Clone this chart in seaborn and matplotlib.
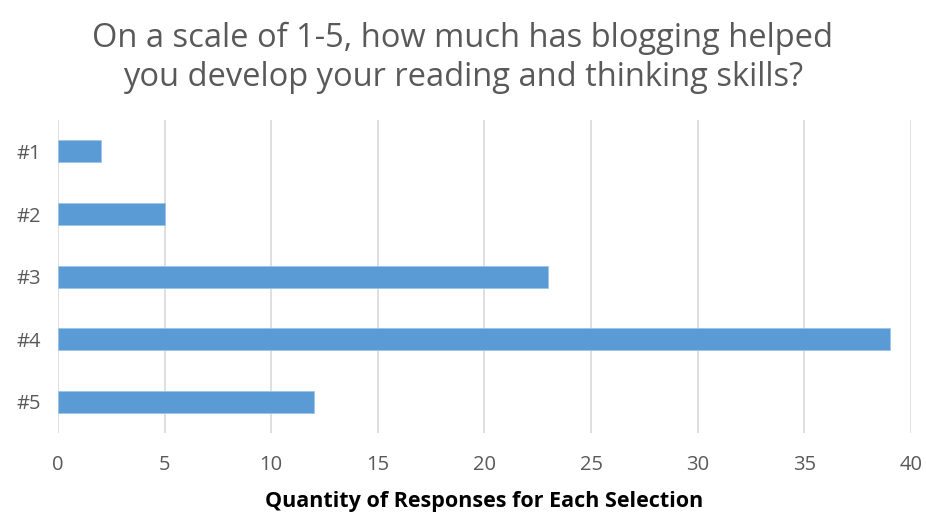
"""
Blogging survey: reading and thinking skills (scale 1-5).
"""
import pandas as pd
import matplotlib
matplotlib.use("Agg")
import matplotlib.pyplot as plt
import seaborn as sns

# Data
selections = ["#1", "#2", "#3", "#4", "#5"]
responses = [2, 5, 23, 39, 12]
x_ticks = [0, 5, 10, 15, 20, 25, 30, 35, 40]

df = pd.DataFrame({"selection": selections, "responses": responses})

sns.set_theme(style="white")
plt.rcParams["font.family"] = ["Open Sans", "DejaVu Sans"]

fig = plt.figure(figsize=(9.26, 5.2), dpi=100)
ax = fig.add_axes([0.0626, 0.167, 0.9212, 0.602])

sns.barplot(data=df, x="responses", y="selection", orient="h",
            color="#5B9BD5", saturation=1, width=0.35,
            edgecolor="#9DC3E6", linewidth=0.6, ax=ax, zorder=3)

ax.set_xlim(0, 40)
ax.set_xticks(x_ticks)
ax.grid(axis="x", color="#D9D9D9", linewidth=1.2, zorder=0)
ax.grid(axis="y", visible=False)
for s in ax.spines.values():
    s.set_visible(False)

ax.tick_params(axis="both", length=0, labelsize=14.5, labelcolor="#595959")
ax.tick_params(axis="x", pad=16)
ax.tick_params(axis="y", pad=12)
ax.set_ylabel("")
ax.set_xlabel("Quantity of Responses for Each Selection", fontsize=15.5,
              fontweight="bold", color="black", labelpad=11)

fig.suptitle("On a scale of 1-5, how much has blogging helped\nyou develop your reading and thinking skills?",
             fontsize=23.5, color="#595959", y=0.958, linespacing=1.25)

fig.savefig("out.png", dpi=100)
